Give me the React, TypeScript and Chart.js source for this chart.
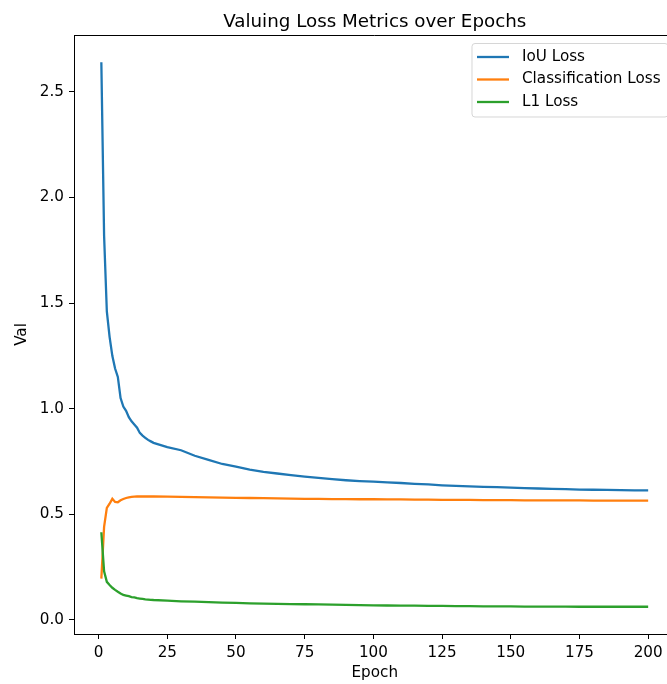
import React, { useEffect, useRef } from "react";
import { Chart, registerables } from "chart.js";

Chart.register(...registerables);

const TITLE = "Valuing Loss Metrics over Epochs";
const X_LABEL = "Epoch";
const Y_LABEL = "Val";

const epochs = [1, 2, 3, 4, 5, 6, 7, 8, 9, 10, 11, 12, 13, 14, 15, 16, 17, 18, 19, 20, 25, 30, 35, 40, 45, 50, 55, 60, 65, 70, 75, 80, 85, 90, 95, 100, 105, 110, 115, 120, 125, 130, 135, 140, 145, 150, 155, 160, 165, 170, 175, 180, 185, 190, 195, 200];

const iouLoss = [2.64, 1.82, 1.46, 1.34, 1.25, 1.19, 1.15, 1.05, 1.01, 0.99, 0.96, 0.94, 0.925, 0.91, 0.885, 0.872, 0.862, 0.852, 0.845, 0.838, 0.818, 0.803, 0.777, 0.757, 0.738, 0.725, 0.711, 0.701, 0.693, 0.685, 0.678, 0.672, 0.666, 0.661, 0.657, 0.654, 0.651, 0.648, 0.644, 0.641, 0.637, 0.634, 0.632, 0.630, 0.628, 0.626, 0.624, 0.622, 0.620, 0.619, 0.617, 0.616, 0.615, 0.614, 0.613, 0.613];

const classificationLoss = [0.195, 0.44, 0.53, 0.55, 0.573, 0.558, 0.557, 0.566, 0.572, 0.577, 0.58, 0.582, 0.583, 0.584, 0.584, 0.584, 0.584, 0.584, 0.584, 0.584, 0.583, 0.582, 0.581, 0.58, 0.579, 0.578, 0.577, 0.576, 0.575, 0.574, 0.573, 0.573, 0.572, 0.572, 0.571, 0.571, 0.57, 0.57, 0.569, 0.569, 0.568, 0.568, 0.568, 0.567, 0.567, 0.567, 0.566, 0.566, 0.566, 0.566, 0.566, 0.565, 0.565, 0.565, 0.565, 0.565];

const l1Loss = [0.415, 0.23, 0.18, 0.165, 0.152, 0.142, 0.133, 0.125, 0.118, 0.115, 0.112, 0.108, 0.106, 0.103, 0.101, 0.099, 0.097, 0.096, 0.095, 0.094, 0.091, 0.088, 0.086, 0.084, 0.082, 0.08, 0.078, 0.077, 0.076, 0.075, 0.074, 0.073, 0.072, 0.071, 0.07, 0.069, 0.068, 0.067, 0.067, 0.066, 0.066, 0.065, 0.065, 0.064, 0.064, 0.064, 0.063, 0.063, 0.063, 0.063, 0.062, 0.062, 0.062, 0.062, 0.062, 0.062];

const seriesLabels = ["IoU Loss", "Classification Loss", "L1 Loss"];
const seriesColors = ["#1f77b4", "#ff7f0e", "#2ca02c"];
const xTicks = [0, 25, 50, 75, 100, 125, 150, 175, 200];
const yTicks = [0, 0.5, 1.0, 1.5, 2.0, 2.5];

const FONT = '"DejaVu Sans", "Liberation Sans", sans-serif';

export default function App() {
  const ref = useRef<HTMLCanvasElement | null>(null);

  useEffect(() => {
    if (!ref.current) return;
    const all = [...iouLoss, ...classificationLoss, ...l1Loss];
    const yMinD = Math.min(...all);
    const yMaxD = Math.max(...all);
    const yPad = (yMaxD - yMinD) * 0.05;
    const xMinD = Math.min(...epochs);
    const xMaxD = Math.max(...epochs);
    const xPad = (xMaxD - xMinD) * 0.05;

    const seriesData = [iouLoss, classificationLoss, l1Loss];

    const overlay = {
      id: "overlay",
      afterDraw(chart: any) {
        const { ctx, chartArea: a } = chart;
        ctx.save();
        // top & right spines
        ctx.strokeStyle = "#000";
        ctx.lineWidth = 1;
        ctx.beginPath();
        ctx.moveTo(a.left, Math.round(a.top) + 0.5);
        ctx.lineTo(a.right, Math.round(a.top) + 0.5);
        ctx.moveTo(Math.round(a.right) + 0.5, a.top);
        ctx.lineTo(Math.round(a.right) + 0.5, a.bottom);
        ctx.stroke();

        const cx = (a.left + a.right) / 2;
        ctx.fillStyle = "#000";
        ctx.textAlign = "center";
        ctx.textBaseline = "alphabetic";
        ctx.font = `18.3px ${FONT}`;
        ctx.fillText(TITLE, cx, a.top - 8.5);

        ctx.font = `15.2px ${FONT}`;
        ctx.textBaseline = "middle";
        ctx.fillText(X_LABEL, cx, 673);

        ctx.save();
        ctx.translate(22, (a.top + a.bottom) / 2);
        ctx.rotate(-Math.PI / 2);
        ctx.fillText(Y_LABEL, 0, 0);
        ctx.restore();

        // legend
        const bx = 472, by = 43.5, bw = 196, bh = 73.5, r = 3;
        ctx.beginPath();
        ctx.moveTo(bx + r, by);
        ctx.lineTo(bx + bw - r, by);
        ctx.arcTo(bx + bw, by, bx + bw, by + r, r);
        ctx.lineTo(bx + bw, by + bh - r);
        ctx.arcTo(bx + bw, by + bh, bx + bw - r, by + bh, r);
        ctx.lineTo(bx + r, by + bh);
        ctx.arcTo(bx, by + bh, bx, by + bh - r, r);
        ctx.lineTo(bx, by + r);
        ctx.arcTo(bx, by, bx + r, by, r);
        ctx.closePath();
        ctx.fillStyle = "rgba(255,255,255,0.8)";
        ctx.fill();
        ctx.strokeStyle = "rgba(204,204,204,0.8)";
        ctx.lineWidth = 1;
        ctx.stroke();

        ctx.textAlign = "left";
        ctx.textBaseline = "middle";
        seriesLabels.forEach((lab, i) => {
          const yy = 57 + i * 22.5;
          ctx.strokeStyle = seriesColors[i];
          ctx.lineWidth = 2.3;
          ctx.beginPath();
          ctx.moveTo(477, yy);
          ctx.lineTo(509, yy);
          ctx.stroke();
          ctx.fillStyle = "#000";
          ctx.fillText(lab, 522, yy);
        });
        ctx.restore();
      },
    };

    const chart = new Chart(ref.current, {
      type: "line",
      data: {
        datasets: seriesData.map((arr, i) => ({
          label: seriesLabels[i],
          data: arr.map((v, j) => ({ x: epochs[j], y: v })),
          borderColor: seriesColors[i],
          backgroundColor: seriesColors[i],
          borderWidth: 2.3,
          pointRadius: 0,
          tension: 0,
          fill: false,
          order: 2 - i,
        })),
      },
      options: {
        responsive: false,
        animation: false,
        devicePixelRatio: 1,
        layout: { padding: { left: 0, top: 35, right: 14.5, bottom: 0 } },
        plugins: {
          legend: { display: false },
          title: { display: false },
          tooltip: { enabled: false },
        },
        scales: {
          x: {
            type: "linear",
            min: xMinD - xPad,
            max: xMaxD + xPad,
            afterBuildTicks: (s: any) => {
              s.ticks = xTicks.map((v) => ({ value: v }));
            },
            afterFit: (s: any) => {
              s.height = 50;
            },
            grid: {
              drawOnChartArea: false,
              drawTicks: true,
              tickLength: 5,
              tickColor: "#000",
              tickWidth: 1,
            },
            border: { display: true, color: "#000", width: 1 },
            ticks: {
              color: "#000",
              padding: 5,
              maxRotation: 0,
              autoSkip: false,
              font: { family: FONT, size: 15.2 },
              callback: (v: any) => String(v),
            },
          },
          y: {
            type: "linear",
            min: yMinD - yPad,
            max: yMaxD + yPad,
            afterBuildTicks: (s: any) => {
              s.ticks = yTicks.map((v) => ({ value: v }));
            },
            afterFit: (s: any) => {
              s.width = 74;
            },
            grid: {
              drawOnChartArea: false,
              drawTicks: true,
              tickLength: 5,
              tickColor: "#000",
              tickWidth: 1,
            },
            border: { display: true, color: "#000", width: 1 },
            ticks: {
              color: "#000",
              padding: 5,
              autoSkip: false,
              font: { family: FONT, size: 15.2 },
              callback: (v: any) => Number(v).toFixed(1),
            },
          },
        },
      },
      plugins: [overlay],
    });
    return () => chart.destroy();
  }, []);

  return (
    <div
      style={{
        position: "fixed",
        left: 0,
        top: 0,
        width: 667,
        height: 684,
        overflow: "hidden",
        background: "#fff",
      }}
    >
      <canvas
        ref={ref}
        width={690}
        height={684}
        style={{ width: 690, height: 684, display: "block" }}
      />
    </div>
  );
}
